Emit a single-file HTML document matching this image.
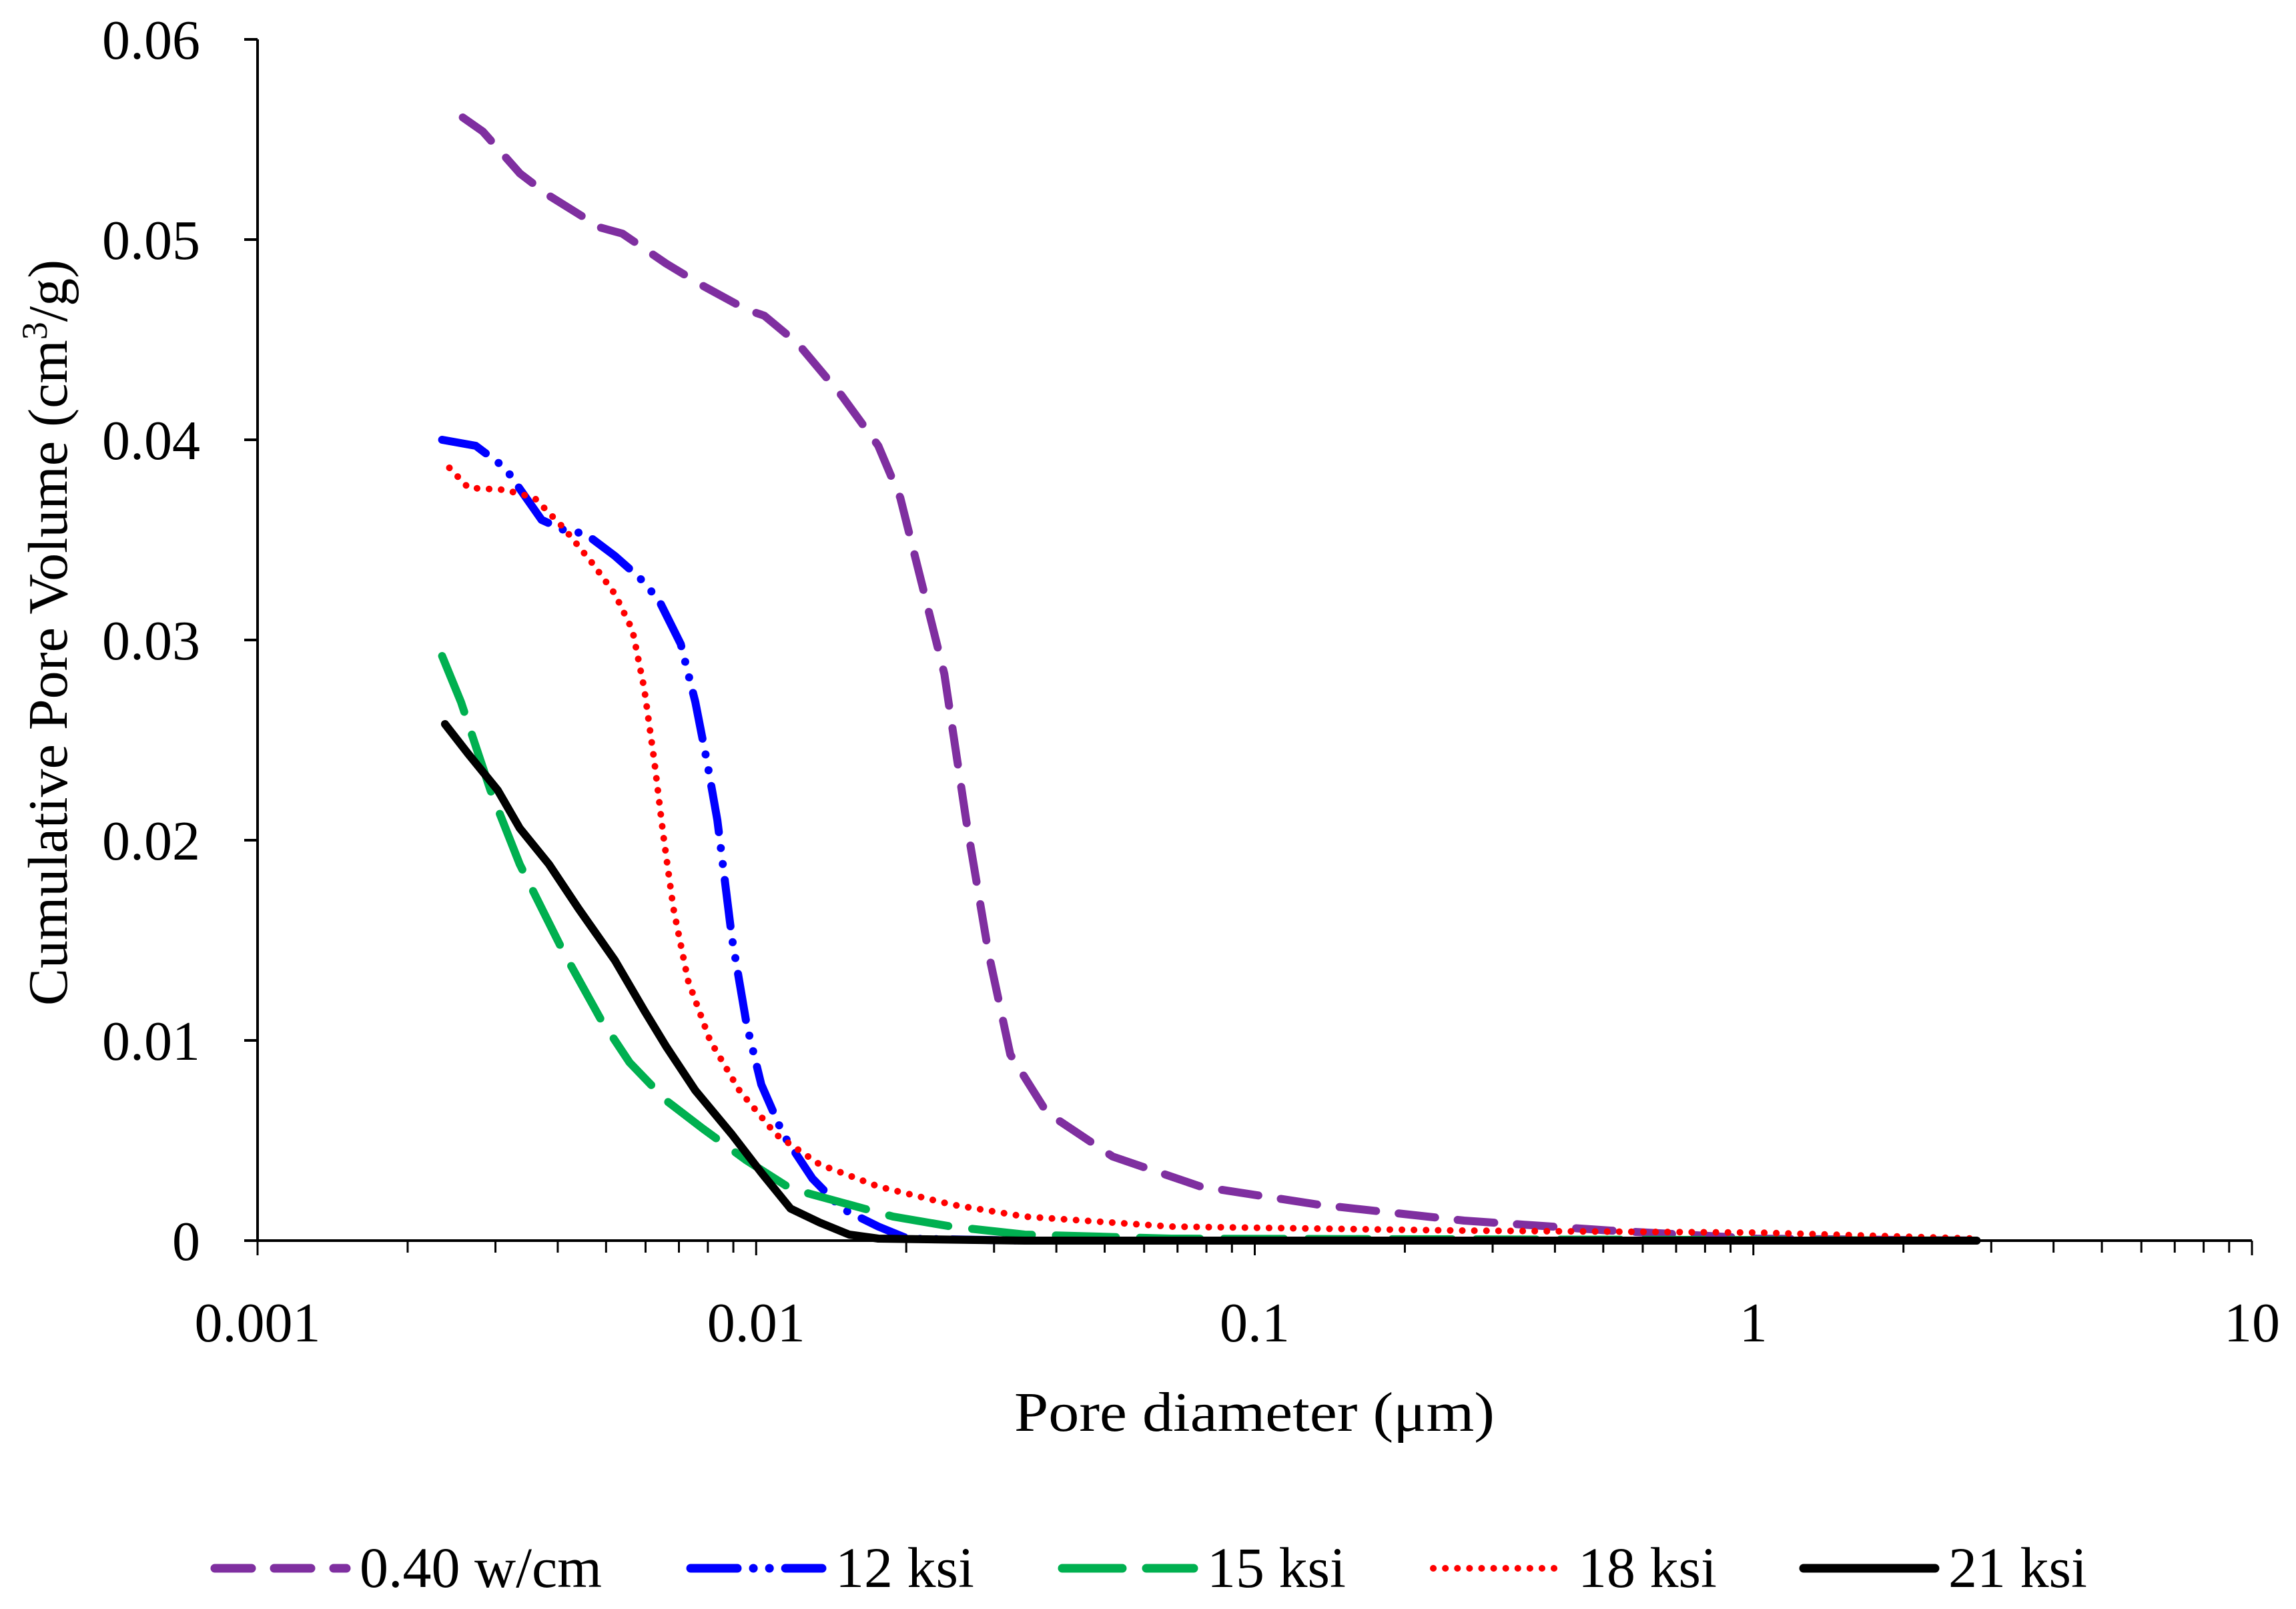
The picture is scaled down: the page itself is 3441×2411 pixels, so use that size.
<!DOCTYPE html>
<html><head><meta charset="utf-8"><style>
html,body{margin:0;padding:0;background:#fff;}
svg{display:block;font-family:"Liberation Serif",serif;}
</style></head><body>
<svg id="chart" width="3441" height="2411" viewBox="0 0 3441 2411" xmlns="http://www.w3.org/2000/svg">
<rect width="3441" height="2411" fill="#fff"/>
<g id="axes"></g>
<g id="series"></g>
<text x="1880" y="2144" font-size="84" text-anchor="middle" textLength="720" lengthAdjust="spacingAndGlyphs">Pore diameter (μm)</text>
<text transform="translate(100,948) rotate(-90)" font-size="84" text-anchor="middle">Cumulative Pore Volume (cm<tspan font-size="54" dy="-30">3</tspan><tspan dy="30">/g)</tspan></text>
<g id="legend"></g>
</svg>
<script>
const xTicks=[0.001,0.01,0.1,1,10];
const xTickLabels=["0.001","0.01","0.1","1","10"];
const yTicks=[0,0.01,0.02,0.03,0.04,0.05,0.06];
const yTickLabels=["0","0.01","0.02","0.03","0.04","0.05","0.06"];
const seriesNames=["0.40 w/cm","12 ksi","15 ksi","18 ksi","21 ksi"];
const wcmX=[0.00258,0.00283,0.00336,0.00384,0.00487,0.00539,0.0066,0.00781,0.00957,0.01038,0.01213,0.01485,0.01758,0.01946,0.02155,0.02385,0.02638,0.02923,0.03233,0.03828,0.05188,0.07787,0.1337,0.263,0.5176,1.016,2.805];
const wcmY=[0.0561,0.0554,0.0533,0.0522,0.0506,0.0503,0.0488,0.0477,0.0465,0.0462,0.0448,0.0422,0.0397,0.0371,0.0327,0.0283,0.021,0.0144,0.0093,0.0064,0.0042,0.0027,0.0018,0.001,0.0005,0.0001,0];
const k12X=[0.002345,0.002739,0.003136,0.003713,0.00411,0.004549,0.005207,0.005842,0.006378,0.007059,0.007552,0.007972,0.00836,0.008943,0.00957,0.01024,0.01133,0.01297,0.01485,0.01759,0.02014,0.03459,0.263,2.805];
const k12Y=[0.04,0.0397,0.0386,0.036,0.0355,0.0353,0.0342,0.0331,0.032,0.0298,0.0269,0.0239,0.021,0.0151,0.0108,0.0078,0.0053,0.0031,0.0016,0.0007,0.0001,0,0,0];
const k15X=[0.002345,0.002559,0.002931,0.003356,0.00411,0.004867,0.005572,0.006597,0.007812,0.00957,0.01172,0.01436,0.01882,0.02467,0.03458,0.06802,2.805];
const k15Y=[0.0292,0.0269,0.0225,0.0188,0.0144,0.0111,0.0089,0.007,0.0056,0.004,0.0026,0.002,0.0012,0.0007,0.0003,0.0001,0];
const k18X=[0.002425,0.002648,0.003136,0.003591,0.00411,0.004705,0.005207,0.005647,0.005962,0.006251,0.00651,0.006824,0.0073,0.008082,0.009253,0.01096,0.01342,0.01759,0.02467,0.03458,0.06802,0.263,1.017,2.805];
const k18Y=[0.0386,0.0376,0.0375,0.0371,0.0356,0.0338,0.0323,0.0305,0.0276,0.0239,0.0203,0.0166,0.013,0.01,0.0075,0.0053,0.0038,0.0027,0.0018,0.0012,0.0007,0.0005,0.0004,0.0001];
const k21X=[0.002376,0.002648,0.003031,0.003356,0.003841,0.004398,0.005207,0.005962,0.006597,0.007552,0.008943,0.01024,0.01172,0.01342,0.01537,0.01759,0.03458,2.805];
const k21Y=[0.0258,0.0243,0.0225,0.0206,0.0188,0.0166,0.014,0.0115,0.0097,0.0075,0.0053,0.0034,0.0016,0.0009,0.0003,0.0001,0,0];

const NS="http://www.w3.org/2000/svg";
const L=386,R=3375,T=59,B=1859;
function xs(v){return L+(Math.log10(v)+3)/4*(R-L);}
function ys(v){return B-v/0.06*(B-T);}
function mk(tag,attrs,parent){const e=document.createElementNS(NS,tag);for(const k in attrs)e.setAttribute(k,attrs[k]);parent.appendChild(e);return e;}
const axes=document.getElementById('axes');
let a=mk('line',{x1:L,y1:T,x2:L,y2:B,stroke:'#000','stroke-width':4},axes);


a=mk('line',{x1:L-20,y1:B,x2:R,y2:B,stroke:'#000','stroke-width':4},axes);


yTicks.forEach((v,i)=>{
  const t=mk('line',{x1:L-20,y1:ys(v),x2:L,y2:ys(v),stroke:'#000','stroke-width':4},axes);
  
  
  const tx=mk('text',{x:300,y:ys(v)+29,'font-size':84,'text-anchor':'end'},axes);
  tx.textContent=yTickLabels[i];
  
  
});
for(let d=-3;d<1;d++){for(let m=1;m<10;m++){
  const v=m*Math.pow(10,d);
  const t=mk('line',{x1:xs(v),y1:B,x2:xs(v),y2:B+(m==1?22:18),stroke:'#000','stroke-width':3},axes);
  
  
}}
let t10=mk('line',{x1:R,y1:B,x2:R,y2:B+22,stroke:'#000','stroke-width':3},axes);


xTicks.forEach((v,i)=>{
  const tx=mk('text',{x:xs(v),y:2010,'font-size':84,'text-anchor':'middle'},axes);
  tx.textContent=xTickLabels[i];
  
  
});
const styles=[
 {c:'#7f2fa0',d:'55 34'},
 {c:'#0000ff',d:'70 24 0.1 24 0.1 24'},
 {c:'#00b050',d:'90 36'},
 {c:'#ff0000',d:'0.1 18'},
 {c:'#000000',d:''}];
const data=[[wcmX,wcmY],[k12X,k12Y],[k15X,k15Y],[k18X,k18Y],[k21X,k21Y]];
const sg=document.getElementById('series');
const names=['series-0-40-wcm','series-12-ksi','series-15-ksi','series-18-ksi','series-21-ksi'];
data.forEach((s,i)=>{
  const pts=s[0].map((x,j)=>xs(x).toFixed(1)+','+ys(s[1][j]).toFixed(1)).join(' ');
  const p=mk('polyline',{points:pts,fill:'none',stroke:styles[i].c,'stroke-width':i==3?10:12,'stroke-linecap':'round','stroke-linejoin':'round'},sg);
  if(styles[i].d)p.setAttribute('stroke-dasharray',styles[i].d);
  
  
});
const lg=document.getElementById('legend');
const lx=[314,1027,1584,2140,2695];
seriesNames.forEach((n,i)=>{
  const g=mk('g',{},lg);
  
  
  const ln=mk('line',{x1:lx[i]+8,y1:2350,x2:lx[i]+205,y2:2350,stroke:styles[i].c,'stroke-width':i==3?10:13,'stroke-linecap':'round'},g);
  if(styles[i].d)ln.setAttribute('stroke-dasharray',styles[i].d);
  const tx=mk('text',{x:lx[i]+225,y:2378,'font-size':86},g);
  tx.textContent=n;
});
</script>
</body></html>
